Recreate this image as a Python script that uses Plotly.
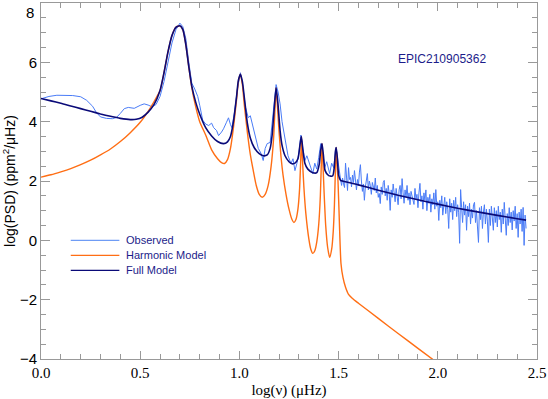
import plotly.graph_objects as go

# ---- data (log frequency in uHz, log PSD) ----
obs_x = [
    0.00, 0.04, 0.08, 0.12, 0.16, 0.20, 0.23, 0.26, 0.28, 0.30,
    0.33, 0.36, 0.38, 0.40, 0.42, 0.44, 0.47, 0.50, 0.52, 0.54,
    0.56, 0.58, 0.60, 0.62, 0.64, 0.66, 0.68, 0.70, 0.715, 0.73,
    0.745, 0.76, 0.775, 0.79, 0.80, 0.815, 0.83, 0.845, 0.86, 0.87,
    0.885, 0.895, 0.91, 0.92, 0.935, 0.945, 0.955, 0.962, 0.975, 0.99,
    1.005, 1.015, 1.03, 1.045, 1.055, 1.07, 1.085, 1.095, 1.11, 1.12,
    1.13, 1.14, 1.155, 1.165, 1.175, 1.185, 1.195, 1.205, 1.215, 1.225,
    1.235, 1.245, 1.26, 1.27, 1.28, 1.29, 1.30, 1.31, 1.32, 1.33,
    1.34, 1.355, 1.37, 1.38, 1.39, 1.40, 1.41, 1.42, 1.43, 1.44,
    1.455, 1.465, 1.475, 1.487, 1.495, 1.505,
    1.510, 1.515, 1.520, 1.525, 1.530, 1.535, 1.540, 1.545, 1.550, 1.555,
    1.560, 1.565, 1.570, 1.575, 1.580, 1.585, 1.590, 1.595, 1.600, 1.605,
    1.610, 1.615, 1.620, 1.625, 1.630, 1.635, 1.640, 1.645, 1.650, 1.655,
    1.660, 1.665, 1.670, 1.675, 1.680, 1.685, 1.690, 1.695, 1.700, 1.705,
    1.710, 1.715, 1.720, 1.725, 1.730, 1.735, 1.740, 1.745, 1.750, 1.755,
    1.760, 1.765, 1.770, 1.775, 1.780, 1.785, 1.790, 1.795, 1.800, 1.805,
    1.810, 1.815, 1.820, 1.825, 1.830, 1.835, 1.840, 1.845, 1.850, 1.855,
    1.860, 1.865, 1.870, 1.875, 1.880, 1.885, 1.890, 1.895, 1.900, 1.905,
    1.910, 1.915, 1.920, 1.925, 1.930, 1.935, 1.940, 1.945, 1.950, 1.955,
    1.960, 1.965, 1.970, 1.975, 1.980, 1.985, 1.990, 1.995, 2.000, 2.005,
    2.010, 2.015, 2.020, 2.025, 2.030, 2.035, 2.040, 2.045, 2.050, 2.055,
    2.060, 2.065, 2.070, 2.075, 2.080, 2.085, 2.090, 2.095, 2.100, 2.105,
    2.110, 2.115, 2.120, 2.125, 2.130, 2.135, 2.140, 2.145, 2.150, 2.155,
    2.160, 2.165, 2.170, 2.175, 2.180, 2.185, 2.190, 2.195, 2.200, 2.205,
    2.210, 2.215, 2.220, 2.225, 2.230, 2.235, 2.240, 2.245, 2.250, 2.255,
    2.260, 2.265, 2.270, 2.275, 2.280, 2.285, 2.290, 2.295, 2.300, 2.305,
    2.310, 2.315, 2.320, 2.325, 2.330, 2.335, 2.340, 2.345, 2.350, 2.355,
    2.360, 2.365, 2.370, 2.375, 2.380, 2.385, 2.390, 2.395, 2.400, 2.405,
    2.410, 2.415, 2.420, 2.425, 2.430, 2.435, 2.440, 2.445,
]
obs_y = [
    4.77, 4.85, 4.89, 4.89, 4.88, 4.84, 4.72, 4.52, 4.30, 4.16,
    4.11, 4.10, 4.14, 4.28, 4.44, 4.48, 4.45, 4.55, 4.60, 4.56,
    4.50, 4.58, 4.85, 5.35, 6.00, 6.65, 7.10, 7.32, 7.20, 6.80,
    6.00, 5.30, 5.10, 4.85, 4.55, 4.05, 3.92, 3.87, 3.95, 3.80,
    3.70, 3.53, 3.65, 3.76, 3.98, 4.13, 3.90, 3.80, 4.30, 5.10,
    5.65, 5.30, 4.50, 4.13, 4.20, 3.80, 3.36, 3.10, 2.92, 2.69,
    3.10, 3.26, 3.30, 3.90, 4.60, 5.25, 5.00, 4.60, 4.00, 3.60,
    3.13, 2.85, 2.59, 2.75, 2.35, 2.60, 2.95, 3.55, 3.10, 2.69,
    2.85, 2.52, 2.25, 2.60, 2.40, 2.80, 3.26, 2.95, 2.45, 2.65,
    2.25, 2.60, 2.45, 3.13, 2.70, 2.25,
    2.05, 1.85, 2.10, 1.90, 1.78, 2.60, 2.20, 1.68, 2.45, 2.05,
    2.12, 1.80, 2.20, 1.95, 2.35, 2.10, 1.70, 2.05, 1.85, 2.30,
    2.55, 2.00, 1.65, 1.90, 1.35, 1.80, 2.05, 2.25, 1.70, 2.00,
    1.85, 1.55, 1.95, 1.75, 1.68, 2.10, 1.60, 1.85, 1.45, 1.58,
    1.24, 1.80, 1.55, 1.95, 2.02, 1.50, 1.75, 1.35, 1.85, 1.58,
    1.01, 1.70, 1.45, 1.90, 1.68, 1.30, 1.75, 1.55, 1.20, 1.70,
    1.85, 1.40, 2.08, 1.60, 1.25, 1.70, 1.45, 1.85, 1.35, 1.60,
    1.20, 1.65, 1.50, 1.30, 1.21, 1.75, 1.40, 1.55, 1.10, 1.60,
    1.92, 1.30, 1.50, 1.05, 1.60, 1.35, 1.70, 1.00, 1.45, 1.25,
    1.55, 0.95, 1.40, 1.20, 1.60, 1.05, 1.71, 1.15, 1.30, 0.67,
    1.35, 1.10, 1.50, 0.85, 1.25, 1.45, 0.90, 1.30, 1.05, 0.40,
    1.40, 0.95, 1.25, 0.70, 1.35, 1.00, 1.45, 0.80, 1.20, 0.95,
    -0.10, 1.71, 1.10, 0.60, 1.30, 0.85, 1.20, 0.34, 1.15, 0.80,
    1.25, 0.55, 1.05, 0.75, 1.20, 1.28, 0.60, 1.00, 0.45, -0.07,
    1.10, 0.70, 1.15, 0.40, 0.95, 1.20, 0.55, 1.05, 0.65, -0.07,
    1.05, 0.50, 1.15, 0.80, 0.34, 1.10, 0.60, 1.00, 0.45, 1.15,
    0.70, 0.95, 0.27, 1.05, 0.55, 1.28, 0.75, 0.17, 0.90, 0.50,
    1.10, 0.60, 0.95, 0.35, 1.00, 0.65, 1.15, 0.40, 0.90, 0.10,
    0.95, 0.55, 1.05, 0.30, 1.11, -0.17, 0.85, 0.40,
]

harm_x = [
    0.00, 0.05, 0.10, 0.15, 0.20, 0.25, 0.30, 0.35, 0.40, 0.45,
    0.50, 0.54, 0.57, 0.60, 0.62, 0.64, 0.66, 0.68, 0.70, 0.715,
    0.73, 0.745, 0.76, 0.78, 0.80, 0.83, 0.86, 0.89, 0.91, 0.925,
    0.94, 0.955, 0.97, 0.985, 0.995, 1.005, 1.015, 1.025, 1.04, 1.055,
    1.07, 1.085, 1.10, 1.115, 1.13, 1.145, 1.16, 1.172, 1.18, 1.185,
    1.192, 1.20, 1.21, 1.22, 1.235, 1.25, 1.265, 1.275, 1.285, 1.295,
    1.303, 1.309, 1.313, 1.318, 1.325, 1.335, 1.35, 1.36, 1.37, 1.38,
    1.39, 1.40, 1.408, 1.413, 1.417, 1.421, 1.427, 1.435, 1.445, 1.455,
    1.465, 1.473, 1.479, 1.484, 1.488, 1.492, 1.497, 1.503, 1.512, 1.522,
    1.535, 1.55, 1.57, 1.60, 1.70, 1.80, 1.90, 2.00,
]
harm_y = [
    2.13, 2.21, 2.31, 2.42, 2.55, 2.70, 2.88, 3.08, 3.33, 3.63,
    3.98, 4.35, 4.68, 5.05, 5.65, 6.35, 6.90, 7.18, 7.23, 7.10,
    6.60, 5.85, 5.15, 4.50, 4.00, 3.55, 3.05, 2.75, 2.62, 2.59,
    2.72, 3.10, 3.80, 4.70, 5.35, 5.60, 5.25, 4.55, 3.65, 2.90,
    2.35, 1.85, 1.55, 1.45, 1.55, 1.85, 2.50, 3.40, 4.50, 5.14,
    4.50, 3.65, 2.80, 2.20, 1.55, 1.05, 0.70, 0.60, 0.70, 1.05,
    1.70, 2.70, 3.50, 2.70, 1.80, 0.90, 0.05, -0.30, -0.44, -0.35,
    -0.05, 0.55, 1.50, 2.60, 3.26, 2.60, 1.60, 0.50, -0.25, -0.57,
    -0.30, 0.30, 1.20, 2.40, 3.13, 2.60, 2.00, 0.80, -0.78, -1.25,
    -1.58, -1.82, -1.96, -2.12, -2.63, -3.14, -3.64, -4.14,
]

full_x = [
    0.00, 0.05, 0.10, 0.15, 0.20, 0.25, 0.30, 0.35, 0.40, 0.45,
    0.48, 0.51, 0.54, 0.57, 0.60, 0.62, 0.64, 0.66, 0.68, 0.70,
    0.715, 0.73, 0.745, 0.76, 0.78, 0.80, 0.83, 0.86, 0.89, 0.92,
    0.94, 0.955, 0.97, 0.985, 0.995, 1.005, 1.015, 1.025, 1.04, 1.055,
    1.075, 1.10, 1.12, 1.14, 1.155, 1.165, 1.175, 1.185, 1.195, 1.205,
    1.215, 1.23, 1.25, 1.265, 1.28, 1.295, 1.305, 1.312, 1.32, 1.33,
    1.345, 1.37, 1.39, 1.402, 1.41, 1.416, 1.423, 1.432, 1.45, 1.47,
    1.478, 1.484, 1.488, 1.494, 1.50, 1.51, 1.55, 1.60, 1.70, 1.80,
    1.90, 2.00, 2.10, 2.20, 2.30, 2.40, 2.445,
]
full_y = [
    4.78, 4.70, 4.62, 4.53, 4.44, 4.35, 4.26, 4.18, 4.11, 4.07,
    4.08, 4.15, 4.32, 4.58, 5.05, 5.65, 6.35, 6.90, 7.18, 7.23,
    7.10, 6.60, 5.85, 5.20, 4.65, 4.25, 3.80, 3.52, 3.33, 3.26,
    3.32, 3.50, 4.00, 4.80, 5.40, 5.60, 5.35, 4.80, 3.95, 3.45,
    3.12, 2.92, 2.85, 2.88, 3.10, 3.55, 4.40, 5.14, 4.55, 3.70,
    3.20, 2.85, 2.65, 2.58, 2.60, 2.75, 3.20, 3.50, 3.05, 2.60,
    2.40, 2.28, 2.28, 2.55, 3.05, 3.26, 2.90, 2.35, 2.18, 2.17,
    2.45, 3.00, 3.13, 2.75, 2.20, 2.02, 1.95, 1.87, 1.69, 1.52,
    1.37, 1.22, 1.08, 0.96, 0.84, 0.73, 0.68,
]

series_names = ["Observed", "Harmonic Model", "Full Model"]
series_colors = ["#6f9cf5", "#ff6e14", "#0a0a78"]

x_ticks = [0.0, 0.5, 1.0, 1.5, 2.0, 2.5]
y_ticks = [-4, -2, 0, 2, 4, 6]   # "8" is placed by hand below the corner

NAVY = "#1c1c8a"
AXIS = "#999999"
sans = "Liberation Sans, Arial, sans-serif"
serif = "Liberation Serif, Times New Roman, serif"

fig = go.Figure()
fig.add_trace(go.Scatter(
    x=obs_x, y=obs_y, mode="lines", name=series_names[0],
    line=dict(color="#4a7cf7", width=1)
))
fig.add_trace(go.Scatter(
    x=harm_x, y=harm_y, mode="lines", name=series_names[1],
    line=dict(color=series_colors[1], width=1.4, shape="spline", smoothing=0.6)
))
fig.add_trace(go.Scatter(
    x=full_x, y=full_y, mode="lines", name=series_names[2],
    line=dict(color=series_colors[2], width=1.6, shape="spline", smoothing=0.6)
))

# hand-drawn legend, IDL style (tight rows)
for i, (name, color) in enumerate(zip(series_names, series_colors)):
    yy = 0.333 - i * 0.042
    fig.add_shape(type="line", xref="paper", yref="paper",
                  x0=0.060, x1=0.158, y0=yy, y1=yy,
                  line=dict(color=color, width=1.3))
    fig.add_annotation(x=0.168, y=yy, xref="paper", yref="paper",
                       text=name, showarrow=False, xanchor="left", yanchor="middle",
                       font=dict(family=sans, size=11, color=NAVY))

fig.add_annotation(
    x=0.808, y=0.843, xref="paper", yref="paper",
    text="EPIC210905362", showarrow=False,
    xanchor="center", yanchor="middle",
    font=dict(family=sans, size=12, color=NAVY)
)
fig.add_annotation(
    x=0, y=8, xref="paper", yref="y", xshift=-5, yshift=1,
    text="8", showarrow=False, xanchor="right", yanchor="top",
    font=dict(family=sans, size=15, color="black")
)

fig.update_layout(
    width=548, height=399,
    margin=dict(l=41, r=8, t=2, b=40),
    paper_bgcolor="white", plot_bgcolor="white",
    showlegend=False,
    xaxis=dict(
        range=[0, 2.5], tickvals=x_ticks, tickformat=".1f",
        ticks="inside", ticklen=8, tickcolor=AXIS,
        showline=True, linecolor=AXIS, mirror="allticks",
        showgrid=False, zeroline=False, ticklabeloverflow="allow",
        minor=dict(dtick=0.1, ticks="inside", ticklen=5, tickcolor=AXIS),
        tickfont=dict(family=serif, size=15, color="black"),
        title=dict(text="log(ν) (μHz)", standoff=4,
                   font=dict(family=serif, size=15, color="black")),
    ),
    yaxis=dict(
        range=[-4, 8], tickvals=y_ticks,
        ticks="inside", ticklen=9, tickcolor=AXIS,
        showline=True, linecolor=AXIS, mirror="allticks",
        showgrid=False, zeroline=False,
        minor=dict(dtick=0.5, ticks="inside", ticklen=5, tickcolor=AXIS),
        tickfont=dict(family=sans, size=15, color="black"),
        title=dict(text="log(PSD) (ppm<sup>2</sup>/μHz)", standoff=2,
                   font=dict(family=sans, size=14, color="black")),
    ),
)

fig.write_html("out.html", config={"displayModeBar": False},
               post_script="document.body.style.margin='0';")
